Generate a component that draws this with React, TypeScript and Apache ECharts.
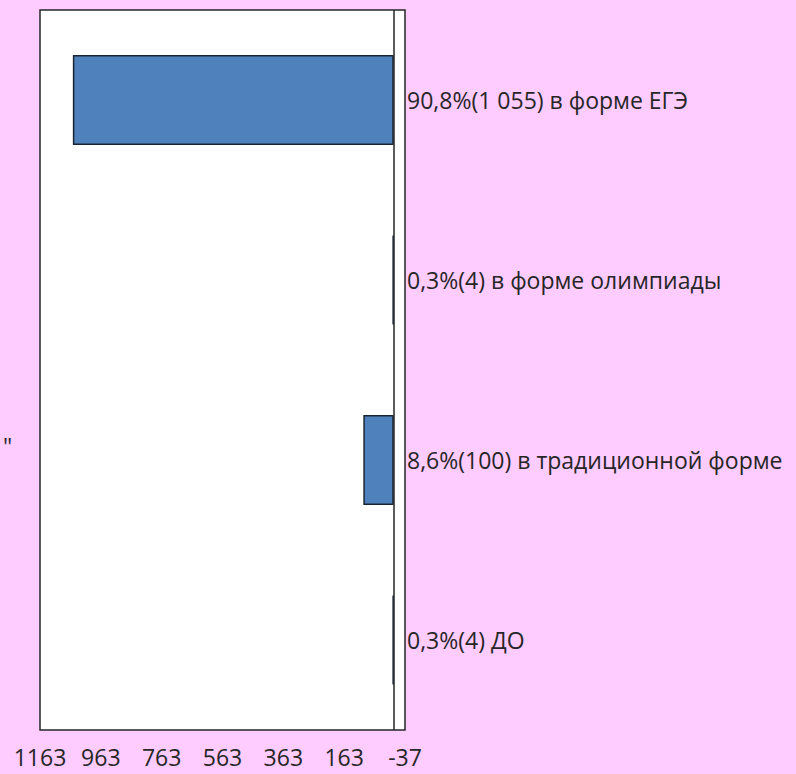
import React, { useEffect, useRef } from "react";
import * as echarts from "echarts";

const categories = [
  "90,8%(1 055) в форме ЕГЭ",
  "0,3%(4) в форме олимпиады",
  "8,6%(100) в традиционной форме",
  "0,3%(4) ДО",
];
const values = [1055, 4, 100, 4];
const axisMin = -37;
const axisMax = 1163;
const axisInterval = 200;

export default function App() {
  const ref = useRef<HTMLDivElement>(null);
  useEffect(() => {
    document.body.style.margin = "0";
    const chart = echarts.init(ref.current!, null, { renderer: "svg" });
    const font = "'Open Sans', sans-serif";
    chart.setOption({
      animation: false,
      backgroundColor: "#FFCCFF",
      grid: {
        left: 40,
        right: 391,
        top: 10,
        bottom: 44,
        show: true,
        backgroundColor: "#ffffff",
        borderColor: "#262626",
        borderWidth: 1.5,
      },
      xAxis: {
        type: "value",
        inverse: true,
        min: axisMin,
        max: axisMax,
        interval: axisInterval,
        splitLine: { show: false },
        axisLine: { show: false },
        axisTick: { show: false },
        axisLabel: {
          color: "#262626",
          fontSize: 23,
          fontFamily: font,
          margin: 15,
          showMinLabel: true,
          showMaxLabel: true,
          formatter: (v: number) => String(v),
        },
      },
      yAxis: {
        type: "category",
        data: categories,
        inverse: true,
        position: "right",
        axisLine: { show: false },
        axisTick: { show: false },
        axisLabel: {
          color: "#262626",
          fontSize: 23,
          fontFamily: font,
          margin: 2,
        },
      },
      graphic: [
        {
          type: "text",
          left: 3,
          top: 434,
          style: {
            text: '"',
            fontSize: 23,
            fontFamily: font,
            fill: "#262626",
          },
        },
      ],
      series: [
        {
          type: "bar",
          data: values,
          barWidth: "50%",
          itemStyle: {
            color: "#4F81BD",
            borderColor: "#1a2433",
            borderWidth: 1.5,
          },
          markLine: {
            silent: true,
            symbol: "none",
            label: { show: false },
            lineStyle: { color: "#262626", width: 1.5, type: "solid" },
            data: [{ xAxis: 0 }],
          },
        },
      ],
    });
    return () => chart.dispose();
  }, []);
  return (
    <div
      ref={ref}
      style={{ position: "absolute", left: 0, top: 0, width: 796, height: 774 }}
    />
  );
}
